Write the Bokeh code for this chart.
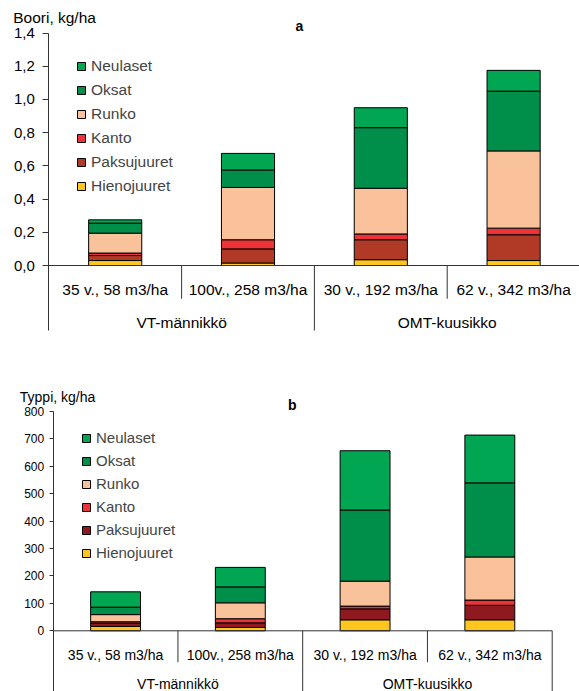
from bokeh.plotting import figure
from bokeh.layouts import column
from bokeh.models import (Range1d, FixedTicker, CustomJSTickFormatter, Legend,
                          LegendItem, ColumnDataSource, LinearAxis)
from bokeh.core.properties import value
from bokeh.embed import file_html
from bokeh.resources import INLINE

# ---------------- data ----------------
categories = ["35 v., 58 m3/ha", "100v., 258 m3/ha", "30 v., 192 m3/ha", "62 v., 342 m3/ha"]
groups = ["VT-männikkö", "OMT-kuusikko"]
components = ["Hienojuuret", "Paksujuuret", "Kanto", "Runko", "Oksat", "Neulaset"]

# a: Boori, kg/ha
boori_hienojuuret = [0.03, 0.015, 0.035, 0.03]
boori_paksujuuret = [0.03, 0.085, 0.12, 0.155]
boori_kanto = [0.015, 0.055, 0.035, 0.04]
boori_runko = [0.12, 0.315, 0.275, 0.465]
boori_oksat = [0.06, 0.105, 0.365, 0.36]
boori_neulaset = [0.02, 0.10, 0.12, 0.125]

# b: Typpi, kg/ha
typpi_hienojuuret = [16, 12, 40, 40]
typpi_paksujuuret = [12, 17, 40, 53]
typpi_kanto = [5, 15, 10, 19]
typpi_runko = [26, 58, 91, 157]
typpi_oksat = [27, 58, 259, 270]
typpi_neulaset = [56, 71, 216, 174]

boori_ticks = [0.0, 0.2, 0.4, 0.6, 0.8, 1.0, 1.2, 1.4]
typpi_ticks = [0, 100, 200, 300, 400, 500, 600, 700, 800]

colors_a = ["#FFC61E", "#B03A26", "#EE3338", "#F9C29A", "#008F4A", "#00A651"]
colors_b = ["#FFC61E", "#8E1A1F", "#EE3338", "#F9C29A", "#008F4A", "#00A651"]

FONT = "Liberation Sans"
AXIS_COLOR = "#333333"
W = 579


def build(series, colors, ticks, formatter, ylabel, letter, g):
    # g holds pixel geometry measured on the page (y down, relative to figure top)
    H = g["H"]
    ymax = ticks[-1]
    ppu = (g["zero_y"] - g["top_y"]) / ymax          # px per data unit (y)
    ppx = g["cat_w"]                                  # px per category
    x0 = g["axis_x"]
    y_top = ymax + g["top_y"] / ppu
    y_bot = -(H - g["zero_y"]) / ppu
    x_lo = -x0 / ppx
    x_hi = (W - x0) / ppx
    n = len(categories)
    x_axis_end = min(x_hi, n) if g["closed"] else x_hi

    def dx(px):
        return (px - x0) / ppx

    def dy(py):
        return (g["zero_y"] - py) / ppu

    p = figure(width=W, height=H, output_backend="svg", toolbar_location=None,
               x_axis_type=None, y_axis_location=None,
               x_range=Range1d(x_lo, x_hi), y_range=Range1d(y_bot, y_top),
               min_border=0)
    p.outline_line_color = None
    p.grid.visible = False
    p.background_fill_color = "white"
    p.border_fill_color = "white"

    ax = LinearAxis(fixed_location=0, bounds=(dy(g["ax_bottom"]), ymax))
    ax.ticker = FixedTicker(ticks=ticks, minor_ticks=[])
    if formatter is not None:
        ax.formatter = formatter
    ax.axis_line_color = AXIS_COLOR
    ax.major_tick_line_color = AXIS_COLOR
    ax.minor_tick_line_color = None
    ax.major_tick_out = g["tick_out"]
    ax.major_tick_in = 0
    ax.major_label_standoff = g["standoff"]
    ax.major_label_text_font = FONT
    ax.major_label_text_font_size = g["tick_fs"]
    ax.major_label_text_color = "black"
    p.add_layout(ax, "left")

    xs = [i + 0.5 for i in range(n)]
    data = {"x": xs}
    for name, vals in zip(components, series):
        data[name] = vals
    src = ColumnDataSource(data)
    rends = p.vbar_stack(components, x="x", width=0.4, source=src,
                         fill_color=colors, line_color="black", line_width=1)

    # category axis line and separators
    p.segment(x0=[0], y0=[0], x1=[x_axis_end], y1=[0], line_color=AXIS_COLOR, line_width=1)
    inner = dy(g["sep_y"])
    outer = dy(g["ax_bottom"])
    sep_x = [i for i in range(1, n + 1) if i < x_hi]
    sep_y = [inner if i % 2 == 1 else outer for i in sep_x]
    p.segment(x0=sep_x, y0=[0] * len(sep_x), x1=sep_x, y1=sep_y,
              line_color=AXIS_COLOR, line_width=1)

    # category and group labels
    p.text(x=xs, y=[dy(g["cat_y"])] * len(xs), text=categories,
           text_font=value(FONT), text_font_size=g["cat_fs"], text_color="black",
           text_align="center", text_baseline="middle")
    gx = [1.0 + 2 * i for i in range(len(groups))]
    p.text(x=gx, y=[dy(g["grp_y"])] * len(gx), text=groups,
           text_font=value(FONT), text_font_size=g["cat_fs"], text_color="black",
           text_align="center", text_baseline="middle")

    # axis title and panel letter
    p.text(x=[dx(g["yl_x"])], y=[dy(g["yl_y"])], text=[ylabel],
           text_font=value(FONT), text_font_size=g["yl_fs"], text_color="black",
           text_align="left", text_baseline="middle")
    p.text(x=[dx(g["let_x"])], y=[dy(g["let_y"])], text=[letter],
           text_font=value(FONT), text_font_size="14px", text_font_style="bold",
           text_color="black", text_align="center", text_baseline="middle")

    # legend (top item first)
    items = [LegendItem(label=name, renderers=[r]) for name, r in zip(components, rends)][::-1]
    lh = g["leg_h"]
    leg_bottom = g["leg_row1"] - lh / 2 + lh * len(items)
    legend = Legend(items=items, location=(g["leg_x"], round(H - leg_bottom)),
                    glyph_width=10, glyph_height=10, label_height=lh, spacing=0,
                    padding=0, margin=0, label_standoff=5,
                    label_text_font=FONT, label_text_font_size=g["leg_fs"],
                    border_line_color=None, background_fill_alpha=0)
    p.add_layout(legend)
    return p


# measured pixel geometry (relative to each figure's top-left)
geom_a = dict(H=355, top_y=32.5, zero_y=265, axis_x=48.3, cat_w=132.8, ax_bottom=330,
              sep_y=298.3, cat_y=289.3, grp_y=321.7, closed=False,
              tick_out=6, standoff=8, tick_fs="15px", cat_fs="15.5px", leg_fs="15.5px",
              yl_fs="15.5px", yl_x=12.7, yl_y=16.7, let_x=299, let_y=25.7,
              leg_h=24, leg_x=76, leg_row1=66)
OFF = 355
geom_b = dict(H=691 - OFF, top_y=410.7 - OFF, zero_y=630.3 - OFF, axis_x=52.7, cat_w=124.75,
              ax_bottom=691 - OFF, sep_y=661.7 - OFF, cat_y=654.3 - OFF, grp_y=683.3 - OFF,
              closed=True,
              tick_out=4, standoff=5, tick_fs="12px", cat_fs="14px", leg_fs="15px",
              yl_fs="14px", yl_x=19.3, yl_y=396 - OFF, let_x=291.7, let_y=404.3 - OFF,
              leg_h=23, leg_x=81, leg_row1=437.7 - OFF)

fmt_a = CustomJSTickFormatter(code="return tick.toFixed(1).replace('.', ',');")

pa = build([boori_hienojuuret, boori_paksujuuret, boori_kanto, boori_runko, boori_oksat, boori_neulaset],
           colors_a, boori_ticks, fmt_a, "Boori, kg/ha", "a", geom_a)
pb = build([typpi_hienojuuret, typpi_paksujuuret, typpi_kanto, typpi_runko, typpi_oksat, typpi_neulaset],
           colors_b, typpi_ticks, None, "Typpi, kg/ha", "b", geom_b)

layout = column(pa, pb, spacing=0)
open("out.html", "w").write(file_html(layout, INLINE))
